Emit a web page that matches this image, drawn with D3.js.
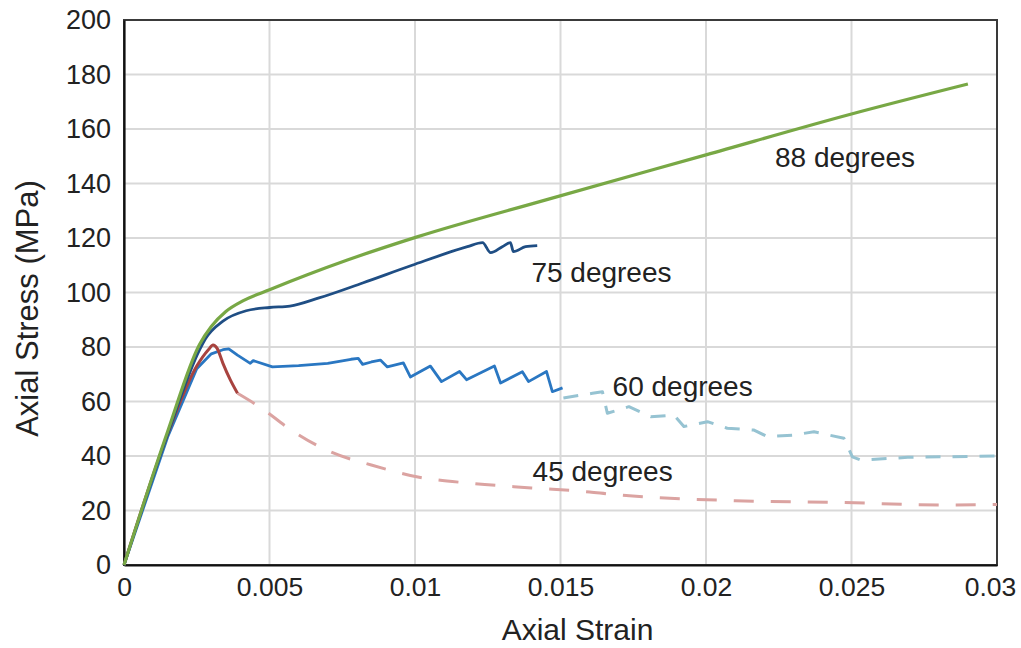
<!DOCTYPE html>
<html>
<head>
<meta charset="utf-8">
<script src="https://cdn.jsdelivr.net/npm/d3@7"></script>
<style>
  html, body { margin: 0; padding: 0; background: #fff; }
  svg { display: block; font-family: "Liberation Sans", Arial, sans-serif; }
</style>
</head>
<body>
<svg id="chart" width="1021" height="648"></svg>
<script>
// ---- data (strain, stress MPa) ----
const xTickValues = [0, 0.005, 0.01, 0.015, 0.02, 0.025, 0.03];
const xTickLabels = ["0", "0.005", "0.01", "0.015", "0.02", "0.025", "0.03"];
const yTickValues = [0, 20, 40, 60, 80, 100, 120, 140, 160, 180, 200];

const deg88 = [[0,0],[0.0015,49],[0.0026,81],[0.003,87.5],[0.0035,93],[0.0041,97],[0.005,101],
  [0.0063,106.5],[0.0077,112],[0.0101,120.5],[0.0145,134],[0.02,150.5],[0.025,165.5],[0.029,176.5]];

const deg75 = [[0,0],[0.0015,48],[0.0026,79],[0.0028,83],[0.0034,89.5],[0.0042,93.3],[0.005,94.5],
  [0.0057,95],[0.0067,98],[0.0082,103.5],[0.0099,110],[0.0118,116.8],[0.01232,118.3],[0.0126,114.6],
  [0.013,116.8],[0.01328,118.3],[0.01338,115],[0.0138,116.8],[0.0142,117.2]];

const deg60 = [[0,0],[0.0015,47],[0.0025,72],[0.003,77.5],[0.0034,79],[0.0036,79.3],[0.0039,77],
  [0.00434,74],[0.00444,75],[0.0051,72.7],[0.006,73.2],[0.007,74],[0.0078,75.5],[0.00805,75.8],
  [0.0082,73.6],[0.0085,74.5],[0.00881,75.2],[0.00905,72.7],[0.0096,74.2],[0.00984,69],
  [0.01053,73],[0.01091,67.3],[0.01153,71],[0.01177,68],[0.01273,73],[0.01294,66.8],
  [0.01369,70.9],[0.0139,67.3],[0.01452,71],[0.01472,63.6],[0.01507,65]];

const deg60Post = [[0.0151,61.3],[0.0161,63],[0.01644,63.6],[0.01661,55.7],[0.01735,58.1],
  [0.0181,54.4],[0.01890,55],[0.01924,50.8],[0.02005,52.6],[0.02073,50.2],[0.02165,49.5],
  [0.02211,47.1],[0.02302,47.7],[0.02371,48.9],[0.02474,46.5],[0.02503,39.7],[0.02532,38.5],
  [0.02693,39.5],[0.02997,40]];

const deg45 = [[0,0],[0.0015,48],[0.0025,73],[0.0029,79],[0.00306,80.7],[0.0032,79.5],
  [0.0034,74],[0.00365,68],[0.0039,63]];

const deg45Post = [[0.0039,63],[0.0048,57],[0.0056,50.6],[0.0071,41.5],[0.0085,36.7],[0.0101,32.3],
  [0.0119,30],[0.014,28.3],[0.016,26.8],[0.0167,26],[0.021,23.6],[0.0244,23],[0.0284,22],[0.03,22.2]];

const labels = [
  {text: "88 degrees", x: 0.02237, y: 146},
  {text: "75 degrees", x: 0.01400, y: 104},
  {text: "60 degrees", x: 0.01679, y: 62},
  {text: "45 degrees", x: 0.01404, y: 31}
];

// ---- layout ----
const svg = d3.select("#chart");
const L = 124, R = 997, T = 20, B = 565;
const x = d3.scaleLinear().domain([0, 0.03]).range([L, R]);
const y = d3.scaleLinear().domain([0, 200]).range([B, T]);

// gridlines
svg.append("g").selectAll("line").data(xTickValues.slice(1, -1)).join("line")
  .attr("x1", d => x(d)).attr("x2", d => x(d)).attr("y1", T).attr("y2", B)
  .attr("stroke", "#d9d9d9").attr("stroke-width", 2);
svg.append("g").selectAll("line").data(yTickValues.slice(1, -1)).join("line")
  .attr("x1", L).attr("x2", R).attr("y1", d => y(d)).attr("y2", d => y(d))
  .attr("stroke", "#d9d9d9").attr("stroke-width", 2);

// frame
svg.append("rect").attr("x", L).attr("y", T).attr("width", R - L).attr("height", B - T)
  .attr("fill", "none").attr("stroke", "#3a3a3a").attr("stroke-width", 2);

// axes
const xAxis = d3.axisBottom(x).tickValues(xTickValues).tickFormat((d, i) => xTickLabels[i]).tickSize(0).tickPadding(12);
const gx = svg.append("g").attr("transform", `translate(0,${B})`).call(xAxis);
gx.select(".domain").attr("stroke", "#111").attr("stroke-width", 2.2);
gx.selectAll("text").attr("font-size", 26.5).attr("fill", "#222").attr("font-family", "Liberation Sans, Arial, sans-serif")
  .attr("dx", (d, i) => i === xTickValues.length - 1 ? -7 : 0);

const yAxis = d3.axisLeft(y).tickValues(yTickValues).tickFormat(d3.format("d")).tickSize(0).tickPadding(13);
const gy = svg.append("g").attr("transform", `translate(${L},0)`).call(yAxis);
gy.select(".domain").attr("stroke", "#111").attr("stroke-width", 2.2);
gy.selectAll("text").attr("font-size", 27).attr("fill", "#222").attr("font-family", "Liberation Sans, Arial, sans-serif");

// lines
const lineLin = d3.line().x(d => x(d[0])).y(d => y(d[1]));
const lineSmooth = d3.line().x(d => x(d[0])).y(d => y(d[1])).curve(d3.curveMonotoneX);
function draw(data, gen, color, width, dash) {
  const p = svg.append("path").datum(data).attr("d", gen)
    .attr("fill", "none").attr("stroke", color).attr("stroke-width", width)
    .attr("stroke-linejoin", "round").attr("stroke-linecap", "butt");
  if (dash) p.attr("stroke-dasharray", dash);
}
draw(deg45Post, lineSmooth, "#dba3a1", 3, "20,17");
draw(deg60Post, lineLin, "#96c3d2", 3, "15,12");
draw(deg60, lineLin, "#2a77c2", 2.8);
draw(deg45, lineSmooth, "#a8433f", 3);
draw(deg75, lineSmooth, "#1f4e84", 2.8);
draw(deg88, lineSmooth, "#78a845", 3.2);

// labels
svg.append("g").selectAll("text").data(labels).join("text")
  .attr("x", d => x(d.x)).attr("y", d => y(d.y))
  .attr("font-size", 28).attr("fill", "#222").text(d => d.text);

// axis titles
svg.append("text").attr("x", (L + R) / 2 + 17).attr("y", 640).attr("text-anchor", "middle")
  .attr("font-size", 30).attr("fill", "#222").text("Axial Strain");
svg.append("text").attr("transform", `translate(38,${(T + B) / 2 + 16}) rotate(-90)`)
  .attr("text-anchor", "middle").attr("font-size", 31).attr("fill", "#222").text("Axial Stress (MPa)");
</script>
</body>
</html>
